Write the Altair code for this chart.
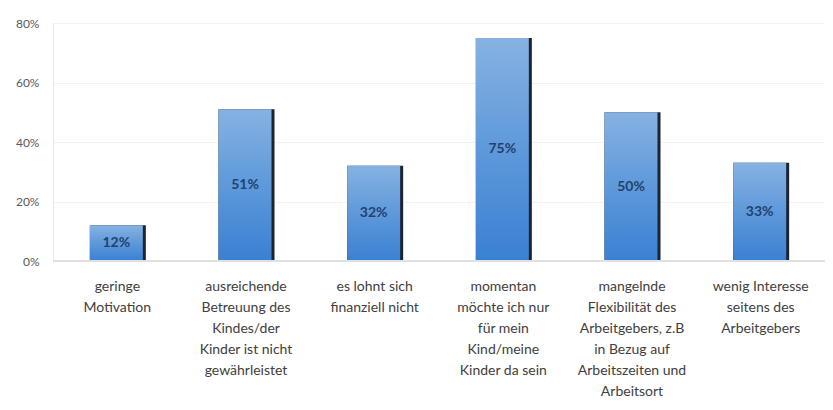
import altair as alt
import pandas as pd

categories = [
    "geringe\nMotivation",
    "ausreichende\nBetreuung des\nKindes/der\nKinder ist nicht\ngewährleistet",
    "es lohnt sich\nfinanziell nicht",
    "momentan\nmöchte ich nur\nfür mein\nKind/meine\nKinder da sein",
    "mangelnde\nFlexibilität des\nArbeitgebers, z.B\nin Bezug auf\nArbeitszeiten und\nArbeitsort",
    "wenig Interesse\nseitens des\nArbeitgebers",
]
values = [0.12, 0.51, 0.32, 0.75, 0.50, 0.33]
labels = ["12%", "51%", "32%", "75%", "50%", "33%"]

df = pd.DataFrame({"cat": categories, "val": values, "lab": labels})
df["half"] = df["val"] / 2

FONT = "Lato"

x = alt.X(
    "cat:N",
    sort=None,
    title=None,
    scale=alt.Scale(paddingInner=0.0, paddingOuter=0.0),
    axis=alt.Axis(
        labelExpr="split(datum.label, '\\n')",
        labelAngle=0,
        labelAlign="center",
        labelBaseline="top",
        labelPadding=18,
        labelLineHeight=21,
        labelFontSize=14,
        labelColor="#404040",
        labelFont=FONT,
        ticks=False,
        domain=False,
        grid=False,
        labelLimit=200,
    ),
)
y = alt.Y(
    "val:Q",
    title=None,
    scale=alt.Scale(domain=[0, 0.8]),
    axis=alt.Axis(
        values=[0, 0.2, 0.4, 0.6, 0.8],
        format=".0%",
        labelFontSize=12,
        labelColor="#595959",
        labelFont=FONT,
        labelPadding=14,
        ticks=False,
        domain=True,
        domainColor="#e8e8e8",
        grid=True,
        gridColor="#f2f2f2",
    ),
)

shadow = alt.Chart(df).mark_bar(width=56, xOffset=0.5, color="#1b2433").encode(x=x, y=y)

grad = alt.Gradient(
    gradient="linear",
    stops=[
        alt.GradientStop(color="#86b2e2", offset=0),
        alt.GradientStop(color="#5e99da", offset=0.5),
        alt.GradientStop(color="#3a80d2", offset=1),
    ],
    x1=0, x2=0, y1=0, y2=1,
)
bars = alt.Chart(df).mark_bar(width=53, xOffset=-1, color=grad).encode(x=x, y=y)

text = alt.Chart(df).mark_text(
    font=FONT, fontSize=14, fontWeight="bold", color="#23416e", xOffset=-1
).encode(x=x, y=alt.Y("half:Q"), text="lab:N")

base_rule = alt.Chart(df).mark_rule(color="#e0e0e0", strokeWidth=1).encode(y=alt.datum(0))

chart = (
    alt.layer(shadow, bars, text, base_rule)
    .properties(
        width=772,
        height=238,
        autosize=alt.AutoSizeParams(type="none"),
        padding={"left": 45, "top": 15, "right": 0, "bottom": 141},
        background="white",
    )
    .configure_view(stroke=None)
)

chart.save("out.html", embed_options={"renderer": "svg", "actions": False})
